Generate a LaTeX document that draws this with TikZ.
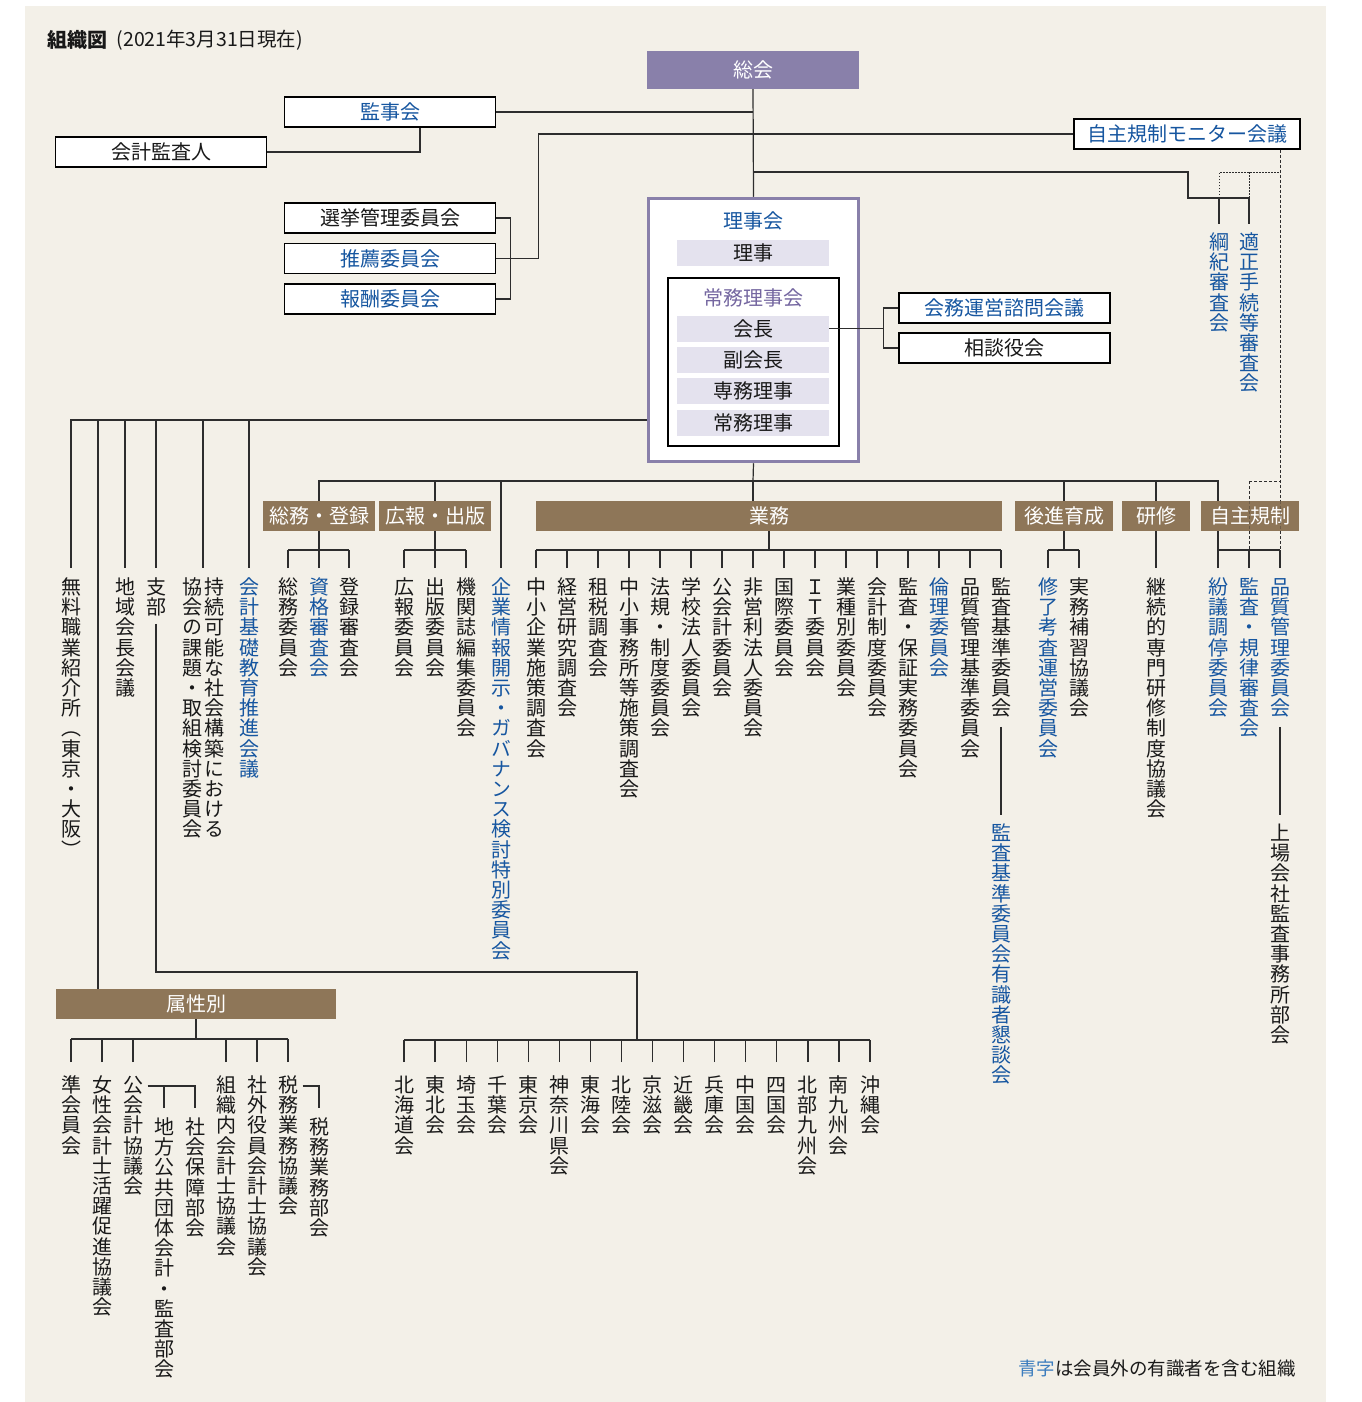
\documentclass[tikz,border=0pt]{standalone}
\usepackage{fontspec}
\setmainfont{Noto Sans CJK JP}
\newfontfamily\vfont{Noto Sans CJK JP}[RawFeature=+vert]
\usetikzlibrary{calc}

\definecolor{panelC}{RGB}{243,240,232}
\definecolor{purC}{RGB}{137,128,170}
\definecolor{lavC}{RGB}{228,226,238}
\definecolor{brownC}{RGB}{142,118,88}
\definecolor{blueC}{RGB}{22,86,160}
\definecolor{jomuC}{RGB}{116,102,160}
\definecolor{txtC}{RGB}{25,25,25}
\definecolor{lineC}{RGB}{45,45,45}
\definecolor{noteC}{RGB}{60,125,190}

\newcommand\fs[1]{\fontsize{#1}{#1}\selectfont}

% stack the characters of a label one under another (vertical writing)
\ExplSyntaxOn
\tl_new:N \l_org_chars_tl
\cs_new_protected:Npn \org_vchar:n #1
  { \hbox_to_wd:nn { 1.05em } { \hss \vrule height 0.86em depth 0.15em width 0pt \relax #1 \hss } }
\NewDocumentCommand \vtext { m }
  {
    \tl_set:Nx \l_org_chars_tl {#1}
    \vbox { \offinterlineskip \tl_map_inline:Nn \l_org_chars_tl { \org_vchar:n {##1} } }
  }
\ExplSyntaxOff

\newcommand\vnode[5][]{\node[vt,#1] (#2) at (#3,#4) {\vtext{#5}};}
\newcommand\dropline[1]{\draw[ln] ([yshift=9pt]#1.north) -- ([yshift=27pt]#1.north);}

\begin{document}
\begin{tikzpicture}[x=1pt,y=-1pt,
  ln/.style={draw=lineC,line width=1.2pt},
  dsh/.style={draw=lineC,line width=1pt,dash pattern=on 3pt off 2pt},
  dtt/.style={draw=lineC,line width=1pt,dash pattern=on 1.5pt off 1.5pt},
  wbox/.style={draw=black,line width=1.2pt,fill=white,minimum width=211pt,minimum height=30pt,inner sep=0pt,font=\fs{20},text=txtC},
  brbox/.style={fill=brownC,text=white,minimum height=30pt,inner sep=0pt,font=\fs{20}},
  lavbox/.style={fill=lavC,minimum width=152pt,minimum height=26pt,inner sep=0pt,font=\fs{20},text=txtC},
  vt/.style={anchor=north,inner sep=0pt,font=\vfont\fs{20},text=txtC},
  bl/.style={text=blueC}]

\useasboundingbox (0,0) rectangle (1361,1402);
\fill[white] (0,0) rectangle (1361,1402);
\fill[panelC] (25,6) rectangle (1326,1402);

% heading
\node[anchor=west,inner sep=0pt,font=\fs{20}\bfseries,text=txtC] (title) at (47,40) {組織図};
\node[anchor=west,inner sep=0pt,font=\fs{19.5},text=txtC] (date) at ([xshift=9pt]title.east) {(2021年3月31日現在)};

% top level
\node[fill=purC,minimum width=212pt,minimum height=38pt,inner sep=0pt,text=white,font=\fs{20}] (soukai) at (753,70) {総会};
\node[wbox,bl] (kanji) at (390,112) {監事会};
\node[wbox] (kaikei) at (161,152) {会計監査人};
\node[wbox,bl,minimum width=226pt] (monitor) at (1187,134) {自主規制モニター会議};
\node[wbox] (senkyo) at (390,218) {選挙管理委員会};
\node[wbox,bl] (suisen) at (390,258.5) {推薦委員会};
\node[wbox,bl] (hoshu) at (390,299) {報酬委員会};

% board
\node[draw=purC,line width=3.5pt,fill=white,minimum width=210pt,minimum height=263pt,inner sep=0pt] (rijikai) at (753.5,330) {};
\node[inner sep=0pt,font=\fs{20},text=blueC] (rijikaiT) at (753,221) {理事会};
\node[lavbox] (riji) at (753,252.5) {理事};
\node[draw=black,line width=1.2pt,fill=white,minimum width=171pt,minimum height=168pt,inner sep=0pt] (jomukai) at (753.5,362) {};
\node[inner sep=0pt,font=\fs{20},text=jomuC] (jomuT) at (753,298) {常務理事会};
\node[lavbox] (kaicho) at (753,328.5) {会長};
\node[lavbox] (fuku) at (753,360) {副会長};
\node[lavbox] (senmu) at (753,391) {専務理事};
\node[lavbox] (jomuriji) at (753,422.5) {常務理事};

\node[wbox,bl] (shimon) at (1004.5,308) {会務運営諮問会議};
\node[wbox] (sodan) at (1004.5,348) {相談役会};

% vertical labels under the board
\vnode[bl]{koki}{1219}{232}{綱紀審査会}
\vnode[bl]{tekisei}{1249}{232}{適正手続等審査会}

\vnode{muryo}{71}{577}{無料職業紹介所（東京・大阪）}
\vnode{chiiki}{125}{577}{地域会長会議}
\vnode{shibu}{156}{577}{支部}
\vnode{jizokuA}{214}{577}{持続可能な社会構築における}
\vnode{jizokuB}{192}{577}{協会の課題・取組検討委員会}
\vnode[bl]{kiso}{249}{577}{会計基礎教育推進会議}
\vnode{s1}{288}{577}{総務委員会}
\vnode[bl]{s2}{319}{577}{資格審査会}
\vnode{s3}{349}{577}{登録審査会}
\vnode{k1}{404}{577}{広報委員会}
\vnode{k2}{435}{577}{出版委員会}
\vnode{k3}{466}{577}{機関誌編集委員会}
\vnode[bl]{kigyo}{501}{577}{企業情報開示・ガバナンス検討特別委員会}
\foreach \nm/\cl [count=\i] in {中小企業施策調査会/txtC,経営研究調査会/txtC,租税調査会/txtC,中小事務所等施策調査会/txtC,法規・制度委員会/txtC,学校法人委員会/txtC,公会計委員会/txtC,非営利法人委員会/txtC,国際委員会/txtC,ＩＴ委員会/txtC,業種別委員会/txtC,会計制度委員会/txtC,監査・保証実務委員会/txtC,倫理委員会/blueC,品質管理基準委員会/txtC,監査基準委員会/txtC}
  {\node[vt,text=\cl] (g\i) at ({536+31*(\i-1)},577) {\vtext{\nm}};}
\vnode[bl]{c1}{1048}{577}{修了考査運営委員会}
\vnode{c2}{1079}{577}{実務補習協議会}
\vnode{t1}{1156}{577}{継続的専門研修制度協議会}
\vnode[bl]{j1}{1218}{577}{紛議調停委員会}
\vnode[bl]{j2}{1249}{577}{監査・規律審査会}
\vnode[bl]{j3}{1280}{577}{品質管理委員会}
\vnode[bl]{yushiki}{1001}{823}{監査基準委員会有識者懇談会}
\vnode{jojo}{1280}{823}{上場会社監査事務所部会}

% division boxes
\node[brbox,minimum width=112pt] (somu) at (319,516) {総務・登録};
\node[brbox,minimum width=112pt] (koho) at (435,516) {広報・出版};
\node[brbox,minimum width=466pt] (gyomu) at (769,516) {業務};
\node[brbox,minimum width=98pt] (kosin) at (1064,516) {後進育成};
\node[brbox,minimum width=68pt] (kensyu) at (1156,516) {研修};
\node[brbox,minimum width=98pt] (jishu) at (1250,516) {自主規制};
\node[brbox,minimum width=280pt,minimum height=30pt] (zokusei) at (196,1004) {属性別};

% attribute groups
\vnode{z1}{71}{1075}{準会員会}
\vnode{z2}{102}{1075}{女性会計士活躍促進協議会}
\vnode{z3}{133}{1075}{公会計協議会}
\vnode{z4}{226}{1075}{組織内会計士協議会}
\vnode{z5}{257}{1075}{社外役員会計士協議会}
\vnode{z6}{288}{1075}{税務業務協議会}
\vnode{z3a}{164}{1117}{地方公共団体会計・監査部会}
\vnode{z3b}{195}{1117}{社会保障部会}
\vnode{z6a}{319}{1117}{税務業務部会}

% regional chapters
\foreach \nm [count=\i] in {北海道会,東北会,埼玉会,千葉会,東京会,神奈川県会,東海会,北陸会,京滋会,近畿会,兵庫会,中国会,四国会,北部九州会,南九州会,沖縄会}
  {\node[vt] (r\i) at ({404+31.07*(\i-1)},1075) {\vtext{\nm}};}

% ---- connectors ----
\coordinate (kb) at (1188,172);
\coordinate (kt) at (1188,198);
\coordinate (dq) at (1280,550);
\coordinate (lb) at (71,420);
\coordinate (mbL) at (319,481);
\coordinate (mbR) at (1218,481);
\coordinate (mb) at (753,481);
\coordinate (sb) at (156,972);
\coordinate (rb) at (637,1040);
\coordinate (jz) at (203,568);
\coordinate (zt) at (98,989);

\draw[ln] (soukai.south) -- (rijikai.north);
\draw[ln] (kanji.east) -- (kanji.east -| soukai.south);
\draw[ln] (kaikei.east) -| ([xshift=30pt]kanji.south);
\draw[ln] (senkyo.east) -- ++(14,0) |- (hoshu.east);
\draw[ln] (suisen.east) -- ++(42,0) |- (monitor.west);
\draw[ln] (soukai.south |- kb) -- (kb) -- (kt) -- (kt -| tekisei.north);
\draw[ln] (kt -| koki.north) -- ([yshift=8pt]koki.north);
\draw[ln] (kt -| tekisei.north) -- ([yshift=8pt]tekisei.north);
\draw[dtt] (kt -| koki.north) -- (kb -| koki.north) -- (kb -| dq);
\draw[dtt] (kb -| tekisei.north) -- (kt -| tekisei.north);
\draw[dsh] (monitor.south -| dq) -- (dq |- jishu.north);
\draw[dsh] (mbR -| j2.north) -- (mbR -| dq);
\draw[dsh] (mbR -| j2.north) -- (jishu.north -| j2.north);
\draw[dsh,draw opacity=0.35] (jishu.north -| j2.north) -- (jishu.south -| j2.north);
\draw[dsh,draw opacity=0.35] (jishu.north -| dq) -- (jishu.south -| dq);
\draw[dsh] (jishu.south -| j2.north) -- ([yshift=27pt]j2.north);
\draw[dsh] (jishu.south -| dq) -- (dq);

% president to advisory bodies
\draw[ln] (kaicho.east) -- ([xshift=-15pt]shimon.west |- kaicho.east);
\draw[ln] (shimon.west) -- ++(-15,0) |- (sodan.west);

% left branch
\draw[ln] (rijikai.west |- lb) -- (lb) -- ([yshift=9pt]muryo.north);
\draw[ln] (lb -| zt) -- (zt);
\draw[ln] (lb -| chiiki.north) -- ([yshift=9pt]chiiki.north);
\draw[ln] (lb -| shibu.north) -- ([yshift=9pt]shibu.north);
\draw[ln] (lb -| jz) -- (jz);
\draw[ln] (lb -| kiso.north) -- ([yshift=9pt]kiso.north);
\draw[ln] ([yshift=-6pt]shibu.south) -- (sb) -| (rb);

% lower bus
\draw[ln] (rijikai.south) -- (mb);
\draw[ln] (somu.north) -- (mbL) -- (mbR) -- (mbR |- jishu.north);
\draw[ln] (koho.north) -- (koho.north |- mbL);
\draw[ln] (mb) -- (mb |- gyomu.north);
\draw[ln] (kosin.north) -- (kosin.north |- mbL);
\draw[ln] (kensyu.north) -- (kensyu.north |- mbL);
\draw[ln] (kigyo.north |- mbL) -- ([yshift=9pt]kigyo.north);

% section subtrees
\draw[ln] (somu.south) -- ([yshift=27pt]s2.north);
\draw[ln] ([yshift=27pt]s1.north) -- ([yshift=27pt]s3.north);
\dropline{s1}\dropline{s2}\dropline{s3}
\draw[ln] (koho.south) -- ([yshift=27pt]k2.north);
\draw[ln] ([yshift=27pt]k1.north) -- ([yshift=27pt]k3.north);
\dropline{k1}\dropline{k2}\dropline{k3}
\draw[ln] (gyomu.south) -- ++(0,19);
\draw[ln] ([yshift=27pt]g1.north) -- ([yshift=27pt]g16.north);
\foreach \i in {1,...,16} {\dropline{g\i}}
\draw[ln] (kosin.south) -- ([yshift=27pt]kosin.south |- c1.north);
\draw[ln] ([yshift=27pt]c1.north) -- ([yshift=27pt]c2.north);
\dropline{c1}\dropline{c2}
\draw[ln] (kensyu.south) -- ([yshift=9pt]t1.north);
\draw[ln] (jishu.south -| j1.north) -- ([yshift=27pt]j1.north) -- ([yshift=27pt]j3.north);
\dropline{j1}\dropline{j2}\dropline{j3}
\draw[ln] ([yshift=-8pt]g16.south) -- ([yshift=8pt]yushiki.north);
\draw[ln] ([yshift=-8pt]j3.south) -- ([yshift=8pt]jojo.north);

% attribute subtree
\draw[ln] (zokusei.south) -- ([yshift=36pt]zokusei.south |- z1.north);
\draw[ln] ([yshift=36pt]z1.north) -- ([yshift=36pt]z6.north);
\foreach \n in {z1,z2,z3,z4,z5,z6} {\draw[ln] ([yshift=13pt]\n.north) -- ([yshift=36pt]\n.north);}
\draw[ln] ([xshift=4pt,yshift=-11pt]z3.north east) -| ([yshift=9pt]z3b.north);
\draw[ln] ([yshift=9pt]z3a.north) -- ++(0,-22);
\draw[ln] ([xshift=4pt,yshift=-11pt]z6.north east) -| ([yshift=9pt]z6a.north);

% regional subtree
\draw[ln] ([yshift=35pt]r1.north) -- ([yshift=35pt]r16.north);
\foreach \i in {1,...,16} {\draw[ln] ([yshift=13pt]r\i.north) -- ([yshift=35pt]r\i.north);}

% legend
\node[anchor=east,inner sep=0pt,font=\fs{18.5},text=txtC] (note) at (1296,1368) {\textcolor{noteC}{青字}は会員外の有識者を含む組織};
\end{tikzpicture}
\end{document}
